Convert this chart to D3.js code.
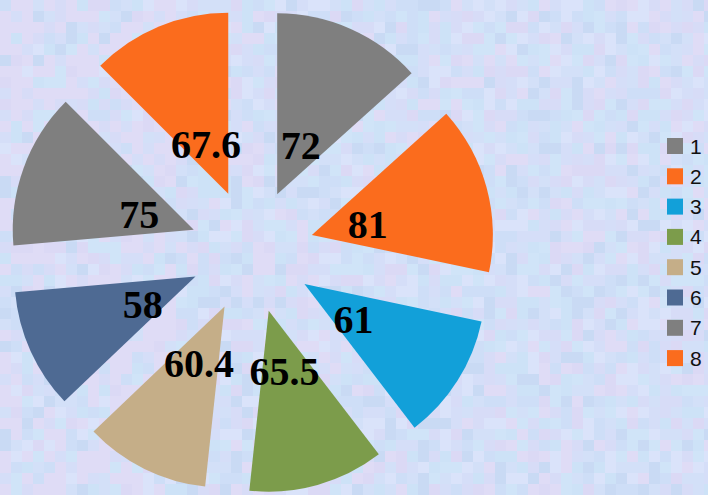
<!DOCTYPE html>
<html>
<head>
<meta charset="utf-8">
<script src="https://cdn.jsdelivr.net/npm/d3@7"></script>
<style>
  html, body { margin: 0; padding: 0; background: #d0def6; }
  svg { display: block; }
</style>
</head>
<body>
<svg id="chart" width="708" height="495"></svg>
<script>
// ---- data ----
const categories = ["1", "2", "3", "4", "5", "6", "7", "8"];
const values = [72, 81, 61, 65.5, 60.4, 58, 75, 67.6];
const labels = ["72", "81", "61", "65.5", "60.4", "58", "75", "67.6"];
const colors = ["#7f7f7f", "#fb6c1d", "#12a0d9", "#7c9c4b", "#c5ae88", "#4e6a93", "#7f7f7f", "#fb6c1d"];

const W = 708, H = 495;
const svg = d3.select("#chart");

// ---- textured background (deterministic mosaic) ----
const bg = svg.append("g");
const palette = ["#c8dcf5", "#d2dbf6", "#dad5f3", "#c6e1f5", "#d9e3f9", "#d5d9f5", "#c0d6f1", "#cfdef7", "#e0d8f4", "#cbe4f6"];
function hash(i, j) {
  const s = Math.sin(i * 127.1 + j * 311.7) * 43758.5453;
  return s - Math.floor(s);
}
const cell = 11;
const cells = [];
for (let j = 0; j * cell < H; j++) {
  for (let i = 0; i * cell < W; i++) {
    cells.push({ i, j });
  }
}
bg.selectAll("rect").data(cells).join("rect")
  .attr("x", d => d.i * cell)
  .attr("y", d => d.j * cell)
  .attr("width", cell + 0.5)
  .attr("height", cell + 0.5)
  .attr("fill", d => {
    let k = Math.floor(hash(d.i, d.j) * palette.length);
    if (d.i < 16 && hash(d.j, d.i) > 0.65) k = 8;
    return palette[k];
  });
svg.append("rect").attr("width", W).attr("height", H)
  .attr("fill", "#dde6fb").attr("opacity", 0.3);

// ---- pie ----
const cx = 252, cy = 251;
const outerR = 181, explode = 62, labelR = 120;

const pie = d3.pie().sort(null).value(d => d.value);
const arcs = pie(categories.map((c, i) => ({ cat: c, value: values[i], label: labels[i], color: colors[i] })));
const arc = d3.arc().innerRadius(0).outerRadius(outerR);

const g = svg.append("g").attr("transform", `translate(${cx},${cy})`);

const slices = g.selectAll("g.slice").data(arcs).join("g").attr("class", "slice")
  .attr("transform", d => {
    const a = (d.startAngle + d.endAngle) / 2;
    return `translate(${explode * Math.sin(a)},${-explode * Math.cos(a)})`;
  });
slices.append("path").attr("d", arc).attr("fill", d => d.data.color);

g.selectAll("text.lbl").data(arcs).join("text").attr("class", "lbl")
  .attr("x", d => labelR * Math.sin((d.startAngle + d.endAngle) / 2))
  .attr("y", d => -labelR * Math.cos((d.startAngle + d.endAngle) / 2))
  .attr("dy", "0.45em")
  .attr("text-anchor", "middle")
  .attr("font-family", "'Liberation Serif', 'Times New Roman', serif")
  .attr("font-weight", "bold")
  .attr("font-size", 40)
  .attr("fill", "#000")
  .text(d => d.data.label);

// ---- legend ----
const legend = svg.append("g").attr("transform", "translate(667,138)");
const item = legend.selectAll("g").data(categories).join("g")
  .attr("transform", (d, i) => `translate(0,${i * 30.3})`);
item.append("rect").attr("width", 16).attr("height", 16)
  .attr("fill", (d, i) => colors[i]);
item.append("text").attr("x", 23).attr("y", 8).attr("dy", "0.36em")
  .attr("font-family", "'Liberation Sans', Arial, sans-serif")
  .attr("font-size", 21).attr("fill", "#111")
  .text(d => d);
</script>
</body>
</html>
